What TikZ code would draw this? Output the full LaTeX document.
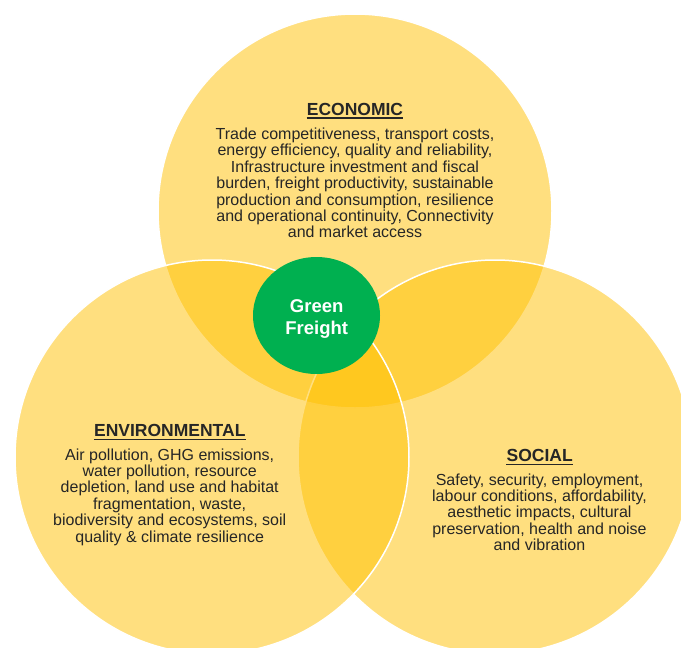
\documentclass[tikz,border=0pt]{standalone}
\usepackage{fontspec}
\setmainfont{Liberation Sans}
\usetikzlibrary{shapes.geometric}
\definecolor{gold}{RGB}{255,192,0}
\definecolor{ggreen}{RGB}{0,176,80}
\definecolor{txt}{RGB}{38,38,38}
\begin{document}
\begin{tikzpicture}[x=1pt,y=-1pt,
  venn/.style={circle, minimum size=394pt, inner sep=0pt, fill=gold, fill opacity=0.5, draw=white, line width=1.5pt},
  heading/.style={font=\bfseries\fontsize{17.5}{20}\selectfont, text=txt, inner sep=0pt, anchor=base},
  body/.style={font=\fontsize{16}{16.4}\selectfont, text=txt, align=center, inner sep=0pt, anchor=north},
  uline/.style={txt, line width=1.4pt},
  blob/.style={ellipse, fill=ggreen, inner sep=0pt, minimum width=127pt, minimum height=117pt},
  blobtext/.style={font=\bfseries\fontsize{18.5}{22}\selectfont, text=white, align=center, inner sep=0pt, anchor=north}]
\useasboundingbox (0,0) rectangle (681,648);
\node[venn] (econ) at (355,211) {};
\node[venn] (soc) at (495,457) {};
\node[venn] (env) at (212,457) {};

\node[heading] (econh) at (355,115) {ECONOMIC};
\draw[uline] ([yshift=-2.8pt]econh.base west) -- ([yshift=-2.8pt]econh.base east);
\node[body] (econb) at (355,127.7) {Trade competitiveness, transport costs,\\energy efficiency, quality and reliability,\\Infrastructure investment and fiscal\\burden, freight productivity, sustainable\\production and consumption, resilience\\and operational continuity, Connectivity\\and market access};

\node[heading] (envh) at (169.8,436.7) {ENVIRONMENTAL};
\draw[uline] ([yshift=-2.8pt]envh.base west) -- ([yshift=-2.8pt]envh.base east);
\node[body] (envb) at (169.7,448.4) {Air pollution, GHG emissions,\\water pollution, resource\\depletion, land use and habitat\\fragmentation, waste,\\biodiversity and ecosystems, soil\\quality \& climate resilience};

\node[heading] (soch) at (539.7,461.7) {SOCIAL};
\draw[uline] ([yshift=-2.8pt]soch.base west) -- ([yshift=-2.8pt]soch.base east);
\node[body] (socb) at (539.5,473.4) {Safety, security, employment,\\labour conditions, affordability,\\aesthetic impacts, cultural\\preservation, health and noise\\and vibration};

\node[blob] (gf) at (316.5,315.5) {};
\node[blobtext] (gft) at (316.7,299) {Green\\Freight};
\end{tikzpicture}
\end{document}
